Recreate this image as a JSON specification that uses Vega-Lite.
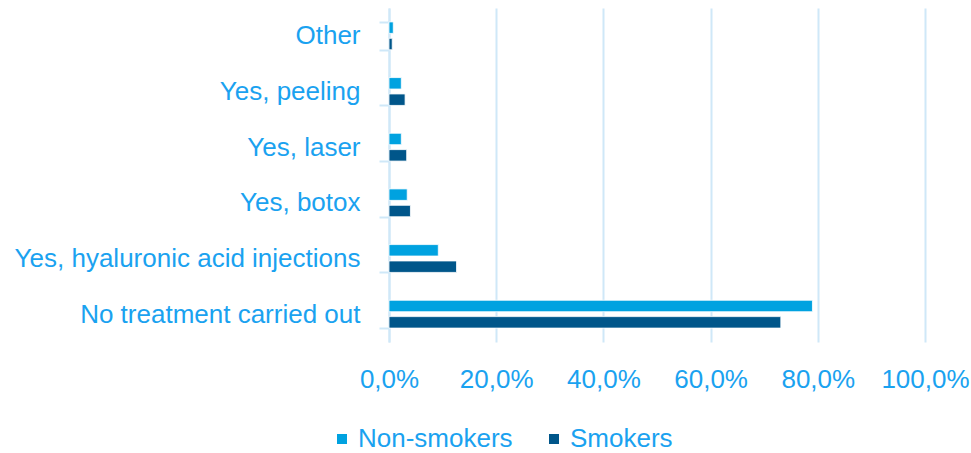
{
  "$schema": "https://vega.github.io/schema/vega-lite/v6.json",
  "width": 536,
  "height": 334,
  "autosize": {"type": "none"},
  "padding": {"left": 389, "top": 8, "right": 46, "bottom": 111},
  "background": "white",
  "config": {
    "locale": {"number": {"decimal": ",", "thousands": ".", "grouping": [3], "currency": ["", " €"], "percent": "%"}},
    "view": {"stroke": null},
    "font": "Liberation Sans"
  },
  "data": {
    "values": [
      {"category": "Other", "group": "Non-smokers", "value": 0.008},
      {"category": "Other", "group": "Smokers", "value": 0.006},
      {"category": "Yes, peeling", "group": "Non-smokers", "value": 0.023},
      {"category": "Yes, peeling", "group": "Smokers", "value": 0.030},
      {"category": "Yes, laser", "group": "Non-smokers", "value": 0.023},
      {"category": "Yes, laser", "group": "Smokers", "value": 0.033},
      {"category": "Yes, botox", "group": "Non-smokers", "value": 0.034},
      {"category": "Yes, botox", "group": "Smokers", "value": 0.040},
      {"category": "Yes, hyaluronic acid injections", "group": "Non-smokers", "value": 0.092},
      {"category": "Yes, hyaluronic acid injections", "group": "Smokers", "value": 0.126},
      {"category": "No treatment carried out\u00a0", "group": "Non-smokers", "value": 0.790},
      {"category": "No treatment carried out\u00a0", "group": "Smokers", "value": 0.731}
    ]
  },
  "mark": {"type": "bar", "stroke": "white", "strokeWidth": 0.8},
  "encoding": {
    "y": {
      "field": "category",
      "type": "nominal",
      "sort": null,
      "title": null,
      "scale": {"paddingInner": 0.5, "paddingOuter": 0.25},
      "axis": {
        "domain": true,
        "domainColor": "#cfe8f8",
        "domainWidth": 2,
        "ticks": true,
        "tickBand": "extent",
        "tickSize": 10,
        "tickColor": "#cfe8f8",
        "tickWidth": 2,
        "labelPadding": 19,
        "labelFontSize": 26,
        "labelColor": "#1aa2f0",
        "labelFont": "Liberation Sans",
        "labelLimit": 500
      }
    },
    "yOffset": {
      "field": "group",
      "type": "nominal",
      "sort": ["Non-smokers", "Smokers"],
      "scale": {"paddingInner": 0.3}
    },
    "x": {
      "field": "value",
      "type": "quantitative",
      "title": null,
      "scale": {"domain": [0, 1]},
      "axis": {
        "format": ".1%",
        "values": [0, 0.2, 0.4, 0.6, 0.8, 1.0],
        "domain": false,
        "ticks": false,
        "grid": true,
        "gridColor": "#cfe8f8",
        "gridWidth": 2,
        "labelPadding": 24,
        "labelOverlap": false,
        "labelFontSize": 26,
        "labelColor": "#1aa2f0",
        "labelFont": "Liberation Sans",
        "labelFlush": false
      }
    },
    "color": {
      "field": "group",
      "type": "nominal",
      "sort": ["Non-smokers", "Smokers"],
      "scale": {"domain": ["Non-smokers", "Smokers"], "range": ["#00a2e0", "#00568a"]},
      "legend": {
        "title": null,
        "orient": "none",
        "legendX": -60,
        "legendY": 418,
        "direction": "horizontal",
        "symbolType": "square",
        "symbolSize": 100,
        "symbolStrokeWidth": 0,
        "labelOffset": 3,
        "labelFontSize": 26,
        "labelColor": "#1aa2f0",
        "labelFont": "Liberation Sans",
        "columnPadding": 28,
        "labelLimit": 300
      }
    }
  }
}
